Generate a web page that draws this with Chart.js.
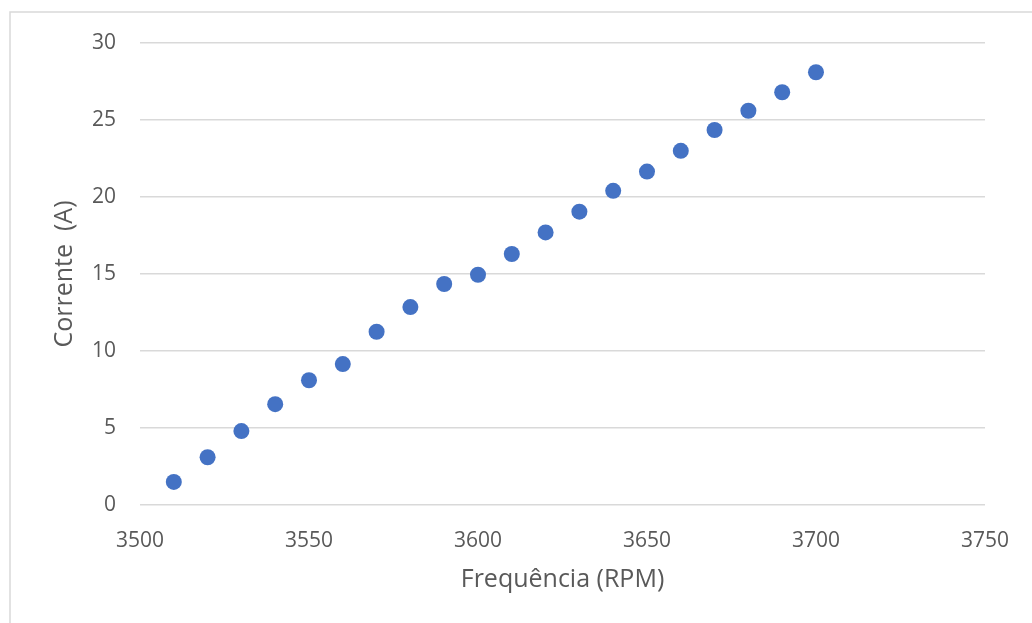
<!DOCTYPE html>
<html>
<head>
<meta charset="utf-8">
<script src="https://cdn.jsdelivr.net/npm/chart.js@4"></script>
<style>
  html, body { margin: 0; padding: 0; background: #ffffff; }
  #wrap { width: 1032px; height: 623px; position: relative; }
</style>
</head>
<body>
<div id="wrap"><canvas id="chart" width="1032" height="623"></canvas></div>
<script>
// Rotation speed (RPM) and measured current (A)
const frequencia = [3510, 3520, 3530, 3540, 3550, 3560, 3570, 3580, 3590, 3600,
                    3610, 3620, 3630, 3640, 3650, 3660, 3670, 3680, 3690, 3700];
const corrente = [1.5, 3.1, 4.8, 6.55, 8.1, 9.15, 11.25, 12.85, 14.35, 14.95,
                  16.3, 17.7, 19.05, 20.4, 21.65, 23.0, 24.35, 25.6, 26.8, 28.1];

const xTicks = [3500, 3550, 3600, 3650, 3700, 3750];
const yTicks = [0, 5, 10, 15, 20, 25, 30];

const xTitle = 'Frequência (RPM)';
const yTitle = 'Corrente  (A)';

const points = frequencia.map((f, i) => ({ x: f, y: corrente[i] }));

// White background plus the thin frame on the top and left edges
const framePlugin = {
  id: 'frame',
  beforeDraw(chart) {
    const ctx = chart.ctx;
    ctx.save();
    ctx.fillStyle = '#ffffff';
    ctx.fillRect(0, 0, chart.width, chart.height);
    ctx.strokeStyle = '#d9d9d9';
    ctx.lineWidth = 1.5;
    ctx.beginPath();
    ctx.moveTo(10, chart.height);
    ctx.lineTo(10, 12);
    ctx.lineTo(chart.width, 12);
    ctx.stroke();
    ctx.restore();
  }
};

const tickFont = { family: 'Open Sans', size: 21 };
const titleFont = { family: 'Open Sans', size: 25 };

new Chart(document.getElementById('chart'), {
  type: 'scatter',
  data: {
    datasets: [{
      data: points,
      backgroundColor: '#4472C4',
      borderColor: '#4472C4',
      pointRadius: 8,
      pointHoverRadius: 8,
      borderWidth: 0
    }]
  },
  options: {
    responsive: false,
    animation: false,
    layout: { padding: { left: 0, top: 43, right: 45, bottom: 0 } },
    plugins: {
      legend: { display: false },
      tooltip: { enabled: false }
    },
    scales: {
      x: {
        type: 'linear',
        min: xTicks[0],
        max: xTicks[xTicks.length - 1],
        afterBuildTicks(scale) { scale.ticks = xTicks.map(v => ({ value: v })); },
        afterFit(scale) { scale.height = 118; },
        grid: { display: false, drawTicks: false },
        border: { display: false },
        ticks: {
          font: tickFont,
          color: '#595959',
          padding: 23,
          maxRotation: 0,
          callback: v => String(v)
        },
        title: {
          display: true,
          text: xTitle,
          font: titleFont,
          color: '#595959',
          padding: { top: 4, bottom: 28 }
        }
      },
      y: {
        type: 'linear',
        min: yTicks[0],
        max: yTicks[yTicks.length - 1],
        afterBuildTicks(scale) { scale.ticks = yTicks.map(v => ({ value: v })); },
        afterFit(scale) { scale.width = 140; },
        grid: { color: '#d9d9d9', lineWidth: 1.5, drawTicks: false },
        border: { display: false },
        ticks: {
          font: tickFont,
          color: '#595959',
          padding: 24,
          callback: v => String(v)
        },
        title: {
          display: true,
          text: yTitle,
          font: titleFont,
          color: '#595959',
          padding: { top: 50, bottom: 4 }
        }
      }
    }
  },
  plugins: [framePlugin]
});
</script>
</body>
</html>
